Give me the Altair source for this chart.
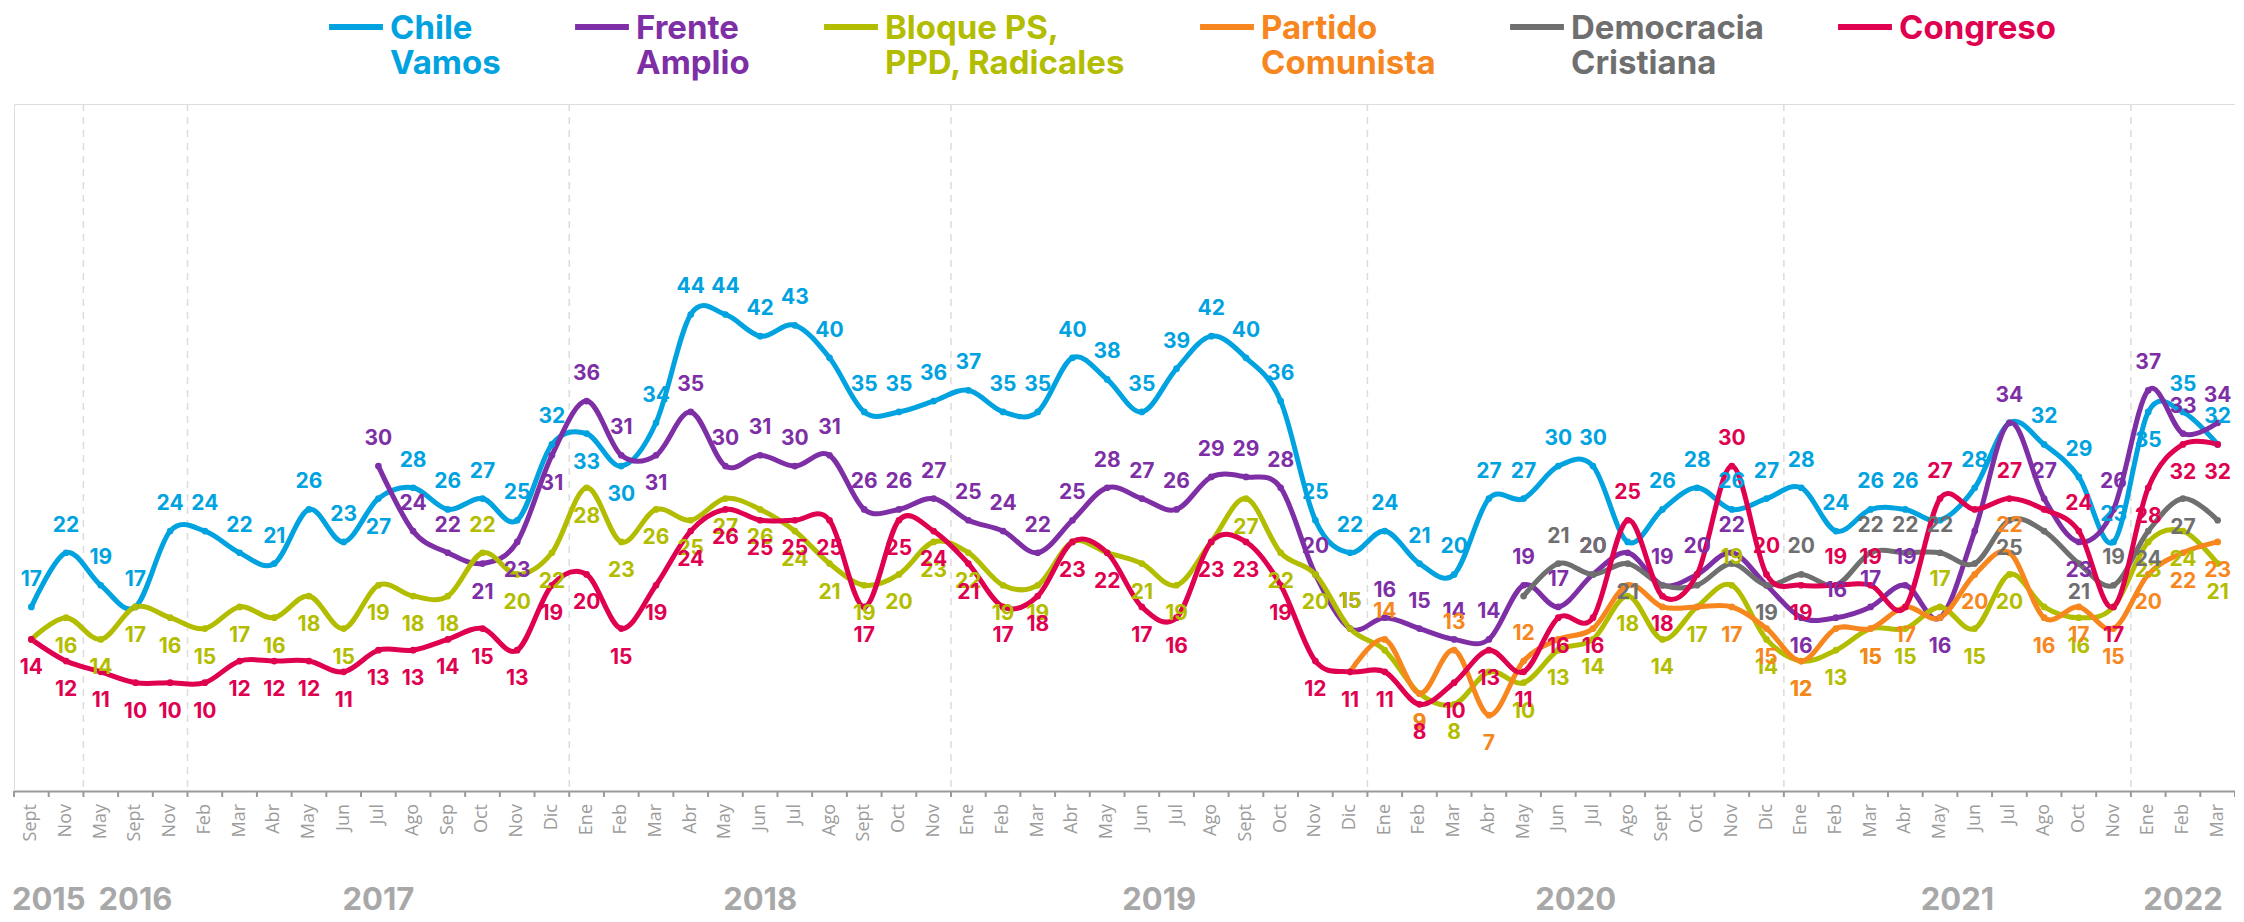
import altair as alt
import pandas as pd

# ---------------- data ----------------
MONTHS = ["Sept", "Nov",
          "May", "Sept", "Nov",
          "Feb", "Mar", "Abr", "May", "Jun", "Jul", "Ago", "Sep", "Oct", "Nov", "Dic",
          "Ene", "Feb", "Mar", "Abr", "May", "Jun", "Jul", "Ago", "Sept", "Oct", "Nov",
          "Ene", "Feb", "Mar", "Abr", "May", "Jun", "Jul", "Ago", "Sept", "Oct", "Nov", "Dic",
          "Ene", "Feb", "Mar", "Abr", "May", "Jun", "Jul", "Ago", "Sept", "Oct", "Nov", "Dic",
          "Ene", "Feb", "Mar", "Abr", "May", "Jun", "Jul", "Ago", "Oct", "Nov",
          "Ene", "Feb", "Mar"]
YEARS = [2015] * 2 + [2016] * 3 + [2017] * 11 + [2018] * 11 + [2019] * 12 + [2020] * 12 + [2021] * 10 + [2022] * 3

CHILE_VAMOS = [17, 22, 19, 17, 24, 24, 22, 21, 26, 23,
               27, 28, 26, 27, 25, 32, 33, 30, 34, 44,
               44, 42, 43, 40, 35, 35, 36, 37, 35, 35,
               40, 38, 35, 39, 42, 40, 36, 25, 22, 24,
               21, 20, 27, 27, 30, 30, 23, 26, 28, 26,
               27, 28, 24, 26, 26, 25, 28, 34, 32, 29,
               23, 35, 35, 32]
FRENTE_AMPLIO = [None] * 10 + [30, 24, 22, 21, 23, 31, 36, 31, 31, 35,
                               30, 31, 30, 31, 26, 26, 27, 25, 24, 22,
                               25, 28, 27, 26, 29, 29, 28, 20, 15, 16,
                               15, 14, 14, 19, 17, 20, 22, 19, 20, 22,
                               19, 16, 16, 17, 19, 16, 24, 34, 27, 23,
                               26, 37, 33, 34]
BLOQUE_PS = [14, 16, 14, 17, 16, 15, 17, 16, 18, 15,
             19, 18, 18, 22, 20, 22, 28, 23, 26, 25,
             27, 26, 24, 21, 19, 20, 23, 22, 19, 19,
             23, 22, 21, 19, 23, 27, 22, 20, 15, 13,
             9, 8, 11, 10, 13, 14, 18, 14, 17, 19,
             14, 12, 13, 15, 15, 17, 15, 20, 17, 16,
             17, 23, 24, 21]
PARTIDO_COMUNISTA = [None] * 38 + [11, 14,
                                   9, 13, 7, 12, 14, 15, 19, 17, 17, 17,
                                   15, 12, 15, 15, 17, 16, 20, 22, 16, 17,
                                   15, 20, 22, 23]
DEMOCRACIA_CRISTIANA = [None] * 43 + [18, 21, 20, 21, 19, 19, 21,
                                      19, 20, 19, 22, 22, 22, 21, 25, 24, 21,
                                      19, 24, 27, 25]
CONGRESO = [14, 12, 11, 10, 10, 10, 12, 12, 12, 11,
            13, 13, 14, 15, 13, 19, 20, 15, 19, 24,
            26, 25, 25, 25, 17, 25, 24, 21, 17, 18,
            23, 22, 17, 16, 23, 23, 19, 12, 11, 11,
            8, 10, 13, 11, 16, 16, 25, 18, 20, 30,
            20, 19, 19, 19, 17, 27, 26, 27, 26, 24,
            17, 28, 32, 32]

SERIES = ["Chile Vamos", "Frente Amplio", "Bloque PS, PPD, Radicales",
          "Partido Comunista", "Democracia Cristiana", "Congreso"]
VALUES = [CHILE_VAMOS, FRENTE_AMPLIO, BLOQUE_PS, PARTIDO_COMUNISTA, DEMOCRACIA_CRISTIANA, CONGRESO]
LEGEND_LINES = [["Chile", "Vamos"], ["Frente", "Amplio"], ["Bloque PS,", "PPD, Radicales"],
                ["Partido", "Comunista"], ["Democracia", "Cristiana"], ["Congreso", " "]]

# ---------------- style ----------------
COLORS = ["#00A3DF", "#7E2FA6", "#B3BD00", "#F7861E", "#6F6F6F", "#DF0050"]
# label side per series: default side and exceptions (a = above, b = below, n = hidden)
LABEL_SIDE = {
    "Chile Vamos": ("a", {10: "b", 16: "b", 17: "b", 61: "b", 46: "n", 55: "n", 57: "n"}),
    "Frente Amplio": ("a", {13: "b", 14: "b", 15: "b", 18: "b", 51: "b", 55: "b", 59: "b",
                            46: "n", 50: "n", 56: "n"}),
    "Bloque PS, PPD, Radicales": ("b", {13: "a", 38: "a", 49: "a", 55: "a", 0: "n", 30: "n", 31: "n",
                                        34: "n", 39: "n", 42: "n", 58: "n", 60: "n"}),
    "Partido Comunista": ("b", {39: "a", 41: "a", 43: "a", 57: "a", 38: "n", 44: "n", 45: "n",
                                46: "n", 47: "n", 48: "n", 52: "n", 55: "n"}),
    "Democracia Cristiana": ("a", {46: "b", 50: "b", 57: "b", 59: "b", 61: "b", 62: "b", 43: "n",
                                   47: "n", 48: "n", 49: "n", 52: "n", 56: "n", 58: "n", 63: "n"}),
    "Congreso": ("b", {46: "a", 49: "a", 50: "a", 52: "a", 53: "a", 55: "a", 57: "a", 59: "a",
                       48: "n", 54: "n", 56: "n", 58: "n"}),
}

W, H = 2221, 687
FONT = "Inter"

rows = []
for s_i, (name, vals) in enumerate(zip(SERIES, VALUES)):
    default, exc = LABEL_SIDE[name]
    for i, v in enumerate(vals):
        if v is None:
            continue
        rows.append({"serie": name, "orden": s_i, "idx": i, "valor": v,
                     "pos": exc.get(i, default)})
df = pd.DataFrame(rows)

n = len(MONTHS)
month_df = pd.DataFrame({"idx": list(range(n)), "mes": MONTHS})
bounds = pd.DataFrame({"b": [i + 0.5 for i in range(n - 1) if YEARS[i] != YEARS[i + 1]]})
ticks = pd.DataFrame({"b": [i - 0.5 for i in range(n + 1)]})
yrs = sorted(set(YEARS))
year_df = pd.DataFrame({
    "year": [str(y) for y in yrs],
    "mid": [sum(i for i in range(n) if YEARS[i] == y) / YEARS.count(y) for y in yrs],
})

legend_expr = ""
for name, lines in zip(SERIES, LEGEND_LINES):
    arr = "[" + ",".join("'" + l + "'" for l in lines) + "]"
    legend_expr += f"datum.label == '{name}' ? {arr} : "
legend_expr += "datum.label"

xscale = alt.Scale(domain=[-0.5, n - 0.5], nice=False, zero=False)
yscale = alt.Scale(domain=[0, H / 10.83], nice=False, zero=False)
cscale = alt.Scale(domain=SERIES, range=COLORS)

X = alt.X("idx:Q", scale=xscale,
          axis=alt.Axis(labels=False, ticks=False, grid=False, domainColor="#9A9A9A",
                        domainWidth=2, title=None))
Y = alt.Y("valor:Q", scale=yscale, axis=None)

base = alt.Chart(df)

grid = alt.Chart(bounds).mark_rule(color="#DCDCDC", strokeWidth=1.5, strokeDash=[7, 6]).encode(
    x=alt.X("b:Q", scale=xscale), y=alt.value(0), y2=alt.value(H))
tick_marks = alt.Chart(ticks).mark_rule(color="#9A9A9A", strokeWidth=2).encode(
    x=alt.X("b:Q", scale=xscale), y=alt.value(H), y2=alt.value(H + 6))
month_labels = alt.Chart(month_df).mark_text(
    font="Open Sans", fontSize=18, color="#9C9C9C", angle=270, align="right",
    baseline="middle").encode(
    x=alt.X("idx:Q", scale=xscale), y=alt.value(H + 13), text="mes:N")

lines = base.mark_line(interpolate="cardinal", strokeWidth=5, strokeCap="round").encode(
    x=X, y=Y,
    color=alt.Color("serie:N", scale=cscale, sort=SERIES,
                    legend=alt.Legend(
                        title=None, orient="none", legendX=312, legendY=-95,
                        direction="horizontal", symbolType="M-1,-0.45L1,-0.45",
                        symbolSize=2900, symbolStrokeWidth=6, columnPadding=62,
                        labelOffset=4, labelFont=FONT, labelFontSize=33,
                        labelFontWeight="bold", labelLimit=600, labelBaseline="alphabetic",
                        labelExpr=legend_expr,
                        labelColor={"expr": "scale('color', datum.value)"})),
    order=alt.Order("idx:Q"),
)
points = base.mark_circle(size=45, opacity=1).encode(
    x=X, y=Y, color=alt.Color("serie:N", scale=cscale, legend=None))

txt_kw = dict(font=FONT, fontSize=21, fontWeight="bold", baseline="middle", align="center")
labels_above = base.transform_filter(alt.datum.pos == "a").mark_text(dy=-27, **txt_kw).encode(
    x=X, y=Y, text=alt.Text("valor:Q", format="d"),
    color=alt.Color("serie:N", scale=cscale, legend=None), order=alt.Order("orden:Q"))
labels_below = base.transform_filter(alt.datum.pos == "b").mark_text(dy=29, **txt_kw).encode(
    x=X, y=Y, text=alt.Text("valor:Q", format="d"),
    color=alt.Color("serie:N", scale=cscale, legend=None), order=alt.Order("orden:Q"))

year_labels = alt.Chart(year_df).mark_text(font=FONT, fontSize=31, fontWeight="bold",
                                           color="#A8A8A8", baseline="middle").encode(
    x=alt.X("mid:Q", scale=xscale), y=alt.value(H + 110), text="year:N")

chart = alt.layer(grid, tick_marks, month_labels, lines, points, labels_above, labels_below,
                  year_labels).properties(
    width=W, height=H,
    autosize=alt.AutoSizeParams(type="none"),
    padding={"left": 6, "top": 96, "right": 0, "bottom": 126},
).configure_view(stroke=None).configure(background="white")

chart.save("out.html", embed_options={"renderer": "svg", "actions": False})
